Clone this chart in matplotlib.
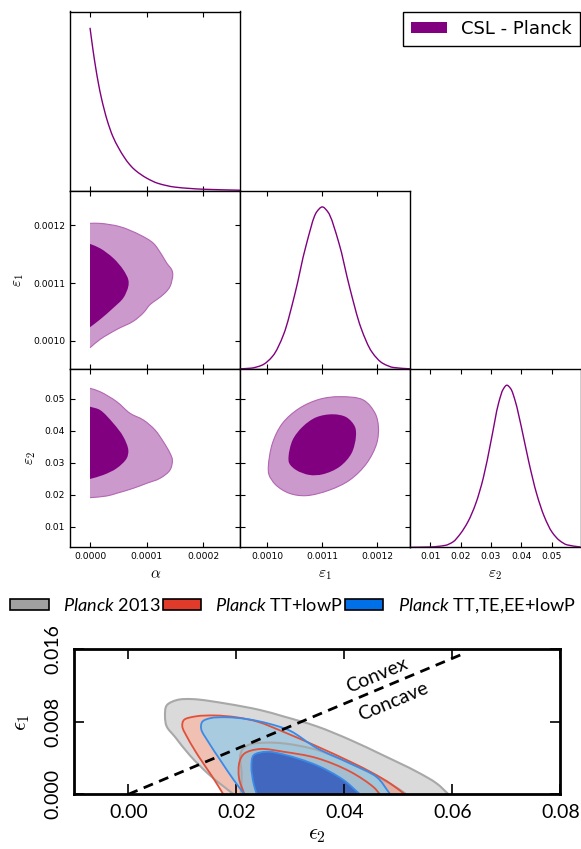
import numpy as np
import matplotlib
matplotlib.use("Agg")
import matplotlib.pyplot as plt
from matplotlib.path import Path
from matplotlib.patches import PathPatch, Patch
from matplotlib.font_manager import FontProperties

plt.rcParams["mathtext.it"] = "Lato:italic"
plt.rcParams["mathtext.rm"] = "Lato"

# ---------------- CSL - Planck posterior ----------------
# 1D marginals (normalised to peak = 1)
alpha_grid = [0.0, 5e-6, 1e-5, 1.5e-5, 2e-5, 3e-5, 4e-5, 5e-5, 6e-5, 7e-5,
              8e-5, 1e-4, 1.2e-4, 1.5e-4, 2e-4, 2.65e-4]
alpha_pdf = [1.0, 0.87, 0.755, 0.655, 0.57, 0.435, 0.335, 0.265, 0.207, 0.16,
             0.125, 0.077, 0.045, 0.022, 0.009, 0.003]

eps1_grid = [0.00095, 0.00097, 0.00099, 0.00101, 0.00103, 0.00105, 0.00107,
             0.00109, 0.00110, 0.00111, 0.00113, 0.00115, 0.00117, 0.00119,
             0.00121, 0.00123, 0.00126]
eps1_pdf = [0.001, 0.005, 0.023, 0.08, 0.216, 0.46, 0.755, 0.97, 1.0, 0.97,
            0.78, 0.50, 0.257, 0.106, 0.035, 0.009, 0.001]

eps2_grid = [0.0035, 0.010, 0.015, 0.0175, 0.020, 0.0225, 0.025, 0.0275,
             0.030, 0.0325, 0.0340, 0.0352, 0.0365, 0.0380, 0.040, 0.0425,
             0.045, 0.0475, 0.050, 0.0525, 0.055, 0.0594]
eps2_pdf = [0.0, 0.002, 0.012, 0.033, 0.085, 0.16, 0.27, 0.43, 0.655, 0.89,
            0.975, 1.0, 0.978, 0.90, 0.74, 0.52, 0.33, 0.19, 0.095, 0.042,
            0.015, 0.002]

# 2D credible regions: alpha vs eps1 (open at the alpha = 0 prior edge)
a_e1_95_alpha = [0.0, 1.76e-5, 5.29e-5, 8.82e-5, 1.116e-4, 1.265e-4, 1.353e-4,
                 1.441e-4, 1.459e-4, 1.411e-4, 1.323e-4, 1.176e-4, 1.058e-4,
                 9.4e-5, 7.64e-5, 4.71e-5, 1.76e-5, 0.0]
a_e1_95_eps1 = [0.0012034, 0.0012034, 0.0011976, 0.0011833, 0.001169,
                0.0011488, 0.0011345, 0.0011229, 0.0011143, 0.0010941,
                0.0010828, 0.0010712, 0.0010626, 0.0010483, 0.0010338,
                0.0010195, 0.0010022, 0.0009879]
a_e1_68_alpha = [0.0, 1.76e-5, 4.11e-5, 5.87e-5, 6.75e-5, 6.75e-5, 5.87e-5,
                 4.11e-5, 1.76e-5, 0.0]
a_e1_68_eps1 = [0.0011678, 0.0011603, 0.0011431, 0.0011229, 0.0011057,
                0.0010941, 0.0010741, 0.0010569, 0.0010367, 0.0010234]

# alpha vs eps2
a_e2_95_alpha = [0.0, 1.76e-5, 4.71e-5, 7.05e-5, 9.4e-5, 1.146e-4, 1.293e-4,
                 1.411e-4, 1.452e-4, 1.411e-4, 1.235e-4, 1.0e-4, 7.64e-5,
                 4.71e-5, 2.95e-5, 0.0]
a_e2_95_eps2 = [0.05335, 0.05229, 0.04915, 0.04552, 0.04342, 0.04028, 0.03661,
                0.03298, 0.03088, 0.02774, 0.02514, 0.02357, 0.02201, 0.02044,
                0.01959, 0.01906]
a_e2_68_alpha = [0.0, 1.76e-5, 4.11e-5, 5.87e-5, 6.75e-5, 6.47e-5, 4.71e-5,
                 2.35e-5, 0.0]
a_e2_68_eps2 = [0.04759, 0.04655, 0.04238, 0.03818, 0.03401, 0.03141, 0.02828,
                0.02618, 0.02492]

# eps1 vs eps2 (closed)
e1_e2_95_eps1 = [0.001002, 0.0010094, 0.0010277, 0.0010583, 0.0010950,
                 0.0011317, 0.0011745, 0.001196, 0.001202, 0.001199,
                 0.0011807, 0.0011501, 0.0011134, 0.0010706, 0.00104,
                 0.0010156, 0.0010033]
e1_e2_95_eps2 = [0.02878, 0.03611, 0.04238, 0.04708, 0.04991, 0.05072, 0.04969,
                 0.04552, 0.04132, 0.03611, 0.02984, 0.02461, 0.02147, 0.01969,
                 0.02044, 0.02304, 0.02618]
e1_e2_68_eps1 = [0.0010387, 0.0010461, 0.0010644, 0.001089, 0.0011195,
                 0.001144, 0.0011593, 0.0011611, 0.0011532, 0.0011317,
                 0.0011011, 0.0010767, 0.0010523, 0.00104]
e1_e2_68_eps2 = [0.03191, 0.03715, 0.04132, 0.04426, 0.0452, 0.04426, 0.04132,
                 0.03818, 0.03298, 0.02878, 0.0264, 0.02618, 0.02774, 0.02984]

# ---------------- Planck constraints on (eps2, eps1) ----------------
p13_95_e2 = [0.0195, 0.0151, 0.0114, 0.0087, 0.0071, 0.0068, 0.0071, 0.0090,
             0.0120, 0.0182, 0.0244, 0.0287, 0.0349, 0.0411, 0.0472, 0.0534,
             0.0571, 0.0593]
p13_95_e1 = [0.0, 0.0021, 0.0043, 0.0063, 0.0075, 0.0086, 0.0098, 0.0104,
             0.0105, 0.0100, 0.0093, 0.0086, 0.0075, 0.0060, 0.0043, 0.0025,
             0.0012, 0.0]
p13_68_e2 = [0.0208, 0.0210, 0.0207, 0.0212, 0.0225, 0.0256, 0.0290, 0.0349,
             0.0411, 0.0472, 0.0503, 0.0515]
p13_68_e1 = [0.0, 0.0023, 0.0042, 0.0050, 0.0055, 0.0057, 0.0056, 0.0049,
             0.0034, 0.0016, 0.0005, 0.0]

tt_95_e2 = [0.0176, 0.0155, 0.0130, 0.0110, 0.0100, 0.0103, 0.0125, 0.0160,
            0.0200, 0.0240, 0.0287, 0.0349, 0.0411, 0.0454, 0.0485, 0.0512]
tt_95_e1 = [0.0, 0.0020, 0.0042, 0.0062, 0.0075, 0.0082, 0.0086, 0.0087,
            0.0085, 0.0080, 0.0069, 0.0053, 0.0036, 0.0023, 0.0012, 0.0]
tt_68_e2 = [0.0215, 0.0205, 0.0206, 0.0215, 0.0244, 0.0287, 0.0349, 0.0411,
            0.0454, 0.0466]
tt_68_e1 = [0.0, 0.0018, 0.0036, 0.0045, 0.0050, 0.0047, 0.0040, 0.0025,
            0.0008, 0.0]

all_95_e2 = [0.0215, 0.0195, 0.0170, 0.0148, 0.0135, 0.0137, 0.0152, 0.0182,
             0.0220, 0.0260, 0.0300, 0.0349, 0.0411, 0.0460, 0.0485]
all_95_e1 = [0.0, 0.0016, 0.0038, 0.0058, 0.0072, 0.0080, 0.0084, 0.0085,
             0.0083, 0.0078, 0.0070, 0.0051, 0.0034, 0.0019, 0.0]
all_68_e2 = [0.0238, 0.0232, 0.0228, 0.0232, 0.0256, 0.0287, 0.0349, 0.0398,
             0.0429]
all_68_e1 = [0.0, 0.0012, 0.0031, 0.0043, 0.0047, 0.0044, 0.0032, 0.0016, 0.0]

boundary_e2 = [0.0, 0.062]
boundary_e1 = [0.0, 0.0155]

legend_labels = [r"$\mathit{Planck}$ 2013", r"$\mathit{Planck}$ TT+lowP",
                 r"$\mathit{Planck}$ TT,TE,EE+lowP"]

# ---------------- helpers ----------------
W, H = 581, 849
fig = plt.figure(figsize=(W / 100, H / 100), dpi=100)


def add_axes_px(left, top, right, bottom):
    return fig.add_axes([left / W, 1 - bottom / H, (right - left) / W,
                         (bottom - top) / H])


def _to_px(ax, x, y):
    """Linear map of data values to the axes' pixel box (and its inverse)."""
    x0, x1 = ax.get_xlim()
    y0, y1 = ax.get_ylim()
    bb = ax.get_position()
    sx = bb.width * W / (x1 - x0)
    sy = bb.height * H / (y1 - y0)
    fwd = np.column_stack([(np.asarray(x, float) - x0) * sx,
                           (np.asarray(y, float) - y0) * sy])
    inv = lambda p: np.column_stack([p[:, 0] / sx + x0, p[:, 1] / sy + y0])
    return fwd, inv


def contour_path(ax, x, y, closed=False, fill=False):
    """Centripetal Catmull-Rom outline expressed as cubic Bezier segments."""
    pts, inv = _to_px(ax, x, y)
    n = len(pts)
    if closed:
        ext = np.vstack([pts[-1], pts, pts[0], pts[1]])
        nseg = n
    else:
        ext = np.vstack([2 * pts[0] - pts[1], pts, 2 * pts[-1] - pts[-2]])
        nseg = n - 1
    verts = [pts[0]]
    for i in range(nseg):
        p0, p1, p2, p3 = ext[i], ext[i + 1], ext[i + 2], ext[i + 3]
        d01 = max(np.linalg.norm(p1 - p0) ** 0.5, 1e-6)
        d12 = max(np.linalg.norm(p2 - p1) ** 0.5, 1e-6)
        d23 = max(np.linalg.norm(p3 - p2) ** 0.5, 1e-6)
        m1 = (p1 - p0) / d01 - (p2 - p0) / (d01 + d12) + (p2 - p1) / d12
        m2 = (p2 - p1) / d12 - (p3 - p1) / (d12 + d23) + (p3 - p2) / d23
        verts += [p1 + m1 * d12 / 3.0, p2 - m2 * d12 / 3.0, p2]
    codes = [Path.MOVETO] + [Path.CURVE4] * (3 * nseg)
    verts = inv(np.array(verts))
    if fill:
        verts = np.vstack([verts, verts[:1]])
        codes.append(Path.CLOSEPOLY)
    return Path(verts, codes)


def density_path(x, y):
    """Monotone cubic (Fritsch-Carlson) curve through a sampled 1D density."""
    x = np.asarray(x, float)
    y = np.asarray(y, float)
    h = np.diff(x)
    d = np.diff(y) / h
    m = np.zeros_like(y)
    m[0], m[-1] = d[0], d[-1]
    for k in range(1, len(x) - 1):
        if d[k - 1] * d[k] <= 0:
            m[k] = 0.0
        else:
            w1, w2 = 2 * h[k] + h[k - 1], h[k] + 2 * h[k - 1]
            m[k] = (w1 + w2) / (w1 / d[k - 1] + w2 / d[k])
    verts = [(x[0], y[0])]
    for k in range(len(x) - 1):
        verts += [(x[k] + h[k] / 3, y[k] + m[k] * h[k] / 3),
                  (x[k + 1] - h[k] / 3, y[k + 1] - m[k + 1] * h[k] / 3),
                  (x[k + 1], y[k + 1])]
    codes = [Path.MOVETO] + [Path.CURVE4] * (3 * (len(x) - 1))
    return Path(verts, codes)


def fill_region(ax, x, y, color, closed=False, alpha=1.0, z=1):
    ax.add_patch(PathPatch(contour_path(ax, x, y, closed, fill=True),
                           facecolor=color, edgecolor="none", alpha=alpha,
                           zorder=z))


def outline(ax, x, y, color, lw, closed=False, z=2):
    ax.add_patch(PathPatch(contour_path(ax, x, y, closed), facecolor="none",
                           edgecolor=color, lw=lw, zorder=z))


def curve(ax, x, y, color, lw):
    ax.add_patch(PathPatch(density_path(x, y), facecolor="none",
                           edgecolor=color, lw=lw, zorder=3))


# ---------------- triangle plot ----------------
DARK = "#800080"
LIGHT = "#cc99cc"
EDGE = "#b266b2"
tick_fs = 6.6
lab_fs = 11

cols = [(70, 240.3), (240.3, 410.3), (410.3, 580.5)]
rows = [(11.5, 190.7), (190.7, 369.0), (369.0, 547.3)]

lims = {
    "alpha": (-0.0000353, 0.000265),
    "eps1": (0.000951, 0.00126),
    "eps2": (0.0035, 0.0594),
}
ticks = {
    "alpha": [0.0, 0.0001, 0.0002],
    "eps1": [0.0010, 0.0011, 0.0012],
    "eps2": [0.01, 0.02, 0.03, 0.04, 0.05],
}
fmts = {"alpha": "{:.4f}", "eps1": "{:.4f}", "eps2": "{:.2f}"}
names = {"alpha": r"$\alpha$", "eps1": r"$\varepsilon_1$",
         "eps2": r"$\varepsilon_2$"}
params = ["alpha", "eps1", "eps2"]


def style_axis(ax):
    for s in ax.spines.values():
        s.set_linewidth(1.0)
    ax.tick_params(direction="in", top=True, right=True, length=3.5, width=0.8,
                   labelsize=tick_fs, pad=3.5)


axes = {}
for i in range(3):
    for j in range(i + 1):
        ax = add_axes_px(cols[j][0], rows[i][0], cols[j][1], rows[i][1])
        style_axis(ax)
        px = params[j]
        ax.set_xlim(*lims[px])
        ax.set_xticks(ticks[px])
        ax.set_xticklabels([fmts[px].format(t) for t in ticks[px]])
        if i == j:
            ax.set_ylim(0, 1.1)
            ax.set_yticks([])
        else:
            py = params[i]
            ax.set_ylim(*lims[py])
            ax.set_yticks(ticks[py])
            ax.set_yticklabels([fmts[py].format(t) for t in ticks[py]])
            if j == 0:
                ax.set_ylabel(names[py], fontsize=lab_fs, labelpad=5,
                              math_fontfamily="cm")
            else:
                ax.tick_params(labelleft=False)
        if i == 2:
            ax.set_xlabel(names[px], fontsize=lab_fs, labelpad=4,
                          math_fontfamily="cm")
        else:
            ax.tick_params(labelbottom=False)
        axes[(i, j)] = ax

# 1D marginals
curve(axes[(0, 0)], alpha_grid, alpha_pdf, DARK, 1.0)
curve(axes[(1, 1)], eps1_grid, eps1_pdf, DARK, 1.0)
curve(axes[(2, 2)], eps2_grid, eps2_pdf, DARK, 1.0)

# alpha - eps1
ax = axes[(1, 0)]
fill_region(ax, a_e1_95_alpha, a_e1_95_eps1, LIGHT)
outline(ax, a_e1_95_alpha, a_e1_95_eps1, EDGE, 0.8)
fill_region(ax, a_e1_68_alpha, a_e1_68_eps1, DARK, z=3)

# alpha - eps2
ax = axes[(2, 0)]
fill_region(ax, a_e2_95_alpha, a_e2_95_eps2, LIGHT)
outline(ax, a_e2_95_alpha, a_e2_95_eps2, EDGE, 0.8)
fill_region(ax, a_e2_68_alpha, a_e2_68_eps2, DARK, z=3)

# eps1 - eps2
ax = axes[(2, 1)]
fill_region(ax, e1_e2_95_eps1, e1_e2_95_eps2, LIGHT, closed=True)
outline(ax, e1_e2_95_eps1, e1_e2_95_eps2, EDGE, 0.8, closed=True)
fill_region(ax, e1_e2_68_eps1, e1_e2_68_eps2, DARK, closed=True, z=3)

fig.legend(handles=[Patch(facecolor=DARK, edgecolor="none")],
           labels=["CSL - Planck"], loc="upper right",
           bbox_to_anchor=(580 / W, 1 - 11.7 / H), borderaxespad=0,
           fancybox=False, edgecolor="black", framealpha=1,
           prop=FontProperties(family="DejaVu Sans", size=13),
           handlelength=2.0, handleheight=0.55, handletextpad=0.8,
           borderpad=0.45)

# ---------------- Planck (eps2, eps1) plane ----------------
axp = add_axes_px(74.3, 649.3, 560.3, 794.3)
axp.set_xlim(-0.01, 0.08)
axp.set_ylim(0.0, 0.016)
for s in axp.spines.values():
    s.set_linewidth(2.0)
axp.tick_params(direction="in", top=True, right=True, length=7, width=1.2,
                labelsize=14)
axp.tick_params(axis="x", pad=7)
axp.tick_params(axis="y", pad=9)
axp.set_xticks([0.0, 0.02, 0.04, 0.06, 0.08])
axp.set_xticklabels(["0.00", "0.02", "0.04", "0.06", "0.08"], family="Lato")
axp.set_yticks([0.0, 0.008, 0.016])
axp.set_yticklabels(["0.000", "0.008", "0.016"], family="Lato", rotation=90,
                    va="center")
axp.set_xlabel(r"$\epsilon_2$", fontsize=16, labelpad=3, math_fontfamily="cm")
axp.set_ylabel(r"$\epsilon_1$", fontsize=16, labelpad=9, math_fontfamily="cm")

GRAY_L, GRAY_D, GRAY_E = "#dadada", "#b4b4b4", "#a8a8a8"
RED_L, RED_D, RED_E = "#ffb09a", "#e8806a", "#e0503a"
BLUE_L, BLUE_D, BLUE_E = "#8ad1f2", "#3f64be", "#3a8ae8"

fill_region(axp, p13_95_e2, p13_95_e1, GRAY_L, z=1)
fill_region(axp, p13_68_e2, p13_68_e1, GRAY_D, z=1.1)
fill_region(axp, tt_95_e2, tt_95_e1, RED_L, alpha=0.6, z=1.2)
fill_region(axp, tt_68_e2, tt_68_e1, RED_D, alpha=0.6, z=1.3)
fill_region(axp, all_95_e2, all_95_e1, BLUE_L, alpha=0.7, z=1.4)
fill_region(axp, all_68_e2, all_68_e1, BLUE_D, alpha=0.97, z=1.5)

outline(axp, p13_95_e2, p13_95_e1, GRAY_E, 1.5, z=2.0)
outline(axp, p13_68_e2, p13_68_e1, GRAY_E, 1.5, z=2.0)
outline(axp, tt_95_e2, tt_95_e1, RED_E, 1.3, z=2.1)
outline(axp, tt_68_e2, tt_68_e1, RED_E, 1.3, z=2.1)
outline(axp, all_95_e2, all_95_e1, BLUE_E, 1.3, z=2.2)
outline(axp, all_68_e2, all_68_e1, BLUE_E, 1.3, z=2.2)

axp.plot(boundary_e2, boundary_e1, color="black", lw=2.0, dashes=(3.6, 2.4),
         zorder=3)

# rotate labels along the convex/concave boundary
q0 = axp.transData.transform((boundary_e2[0], boundary_e1[0]))
q1 = axp.transData.transform((boundary_e2[1], boundary_e1[1]))
ang = np.degrees(np.arctan2(q1[1] - q0[1], q1[0] - q0[0]))
axp.text(0.0460, 0.01316, "Convex", rotation=ang, rotation_mode="anchor",
         ha="center", va="center", fontsize=14, family="Lato", zorder=4)
axp.text(0.0491, 0.01022, "Concave", rotation=ang, rotation_mode="anchor",
         ha="center", va="center", fontsize=14, family="Lato", zorder=4)

leg_handles = [Patch(facecolor="#a0a0a0", edgecolor="black", lw=1.2),
               Patch(facecolor="#e03a2a", edgecolor="black", lw=1.2),
               Patch(facecolor="#0070e8", edgecolor="black", lw=1.2)]
fig.legend(handles=leg_handles, labels=legend_labels, ncol=3, loc="center",
           bbox_to_anchor=(293 / W, 1 - 606 / H), frameon=False,
           prop=FontProperties(family="Lato", size=13.1,
                               math_fontfamily="custom"),
           handlelength=2.1, handleheight=0.62, handletextpad=0.8,
           columnspacing=0.1, borderaxespad=0)

fig.savefig("out.png", dpi=100)
